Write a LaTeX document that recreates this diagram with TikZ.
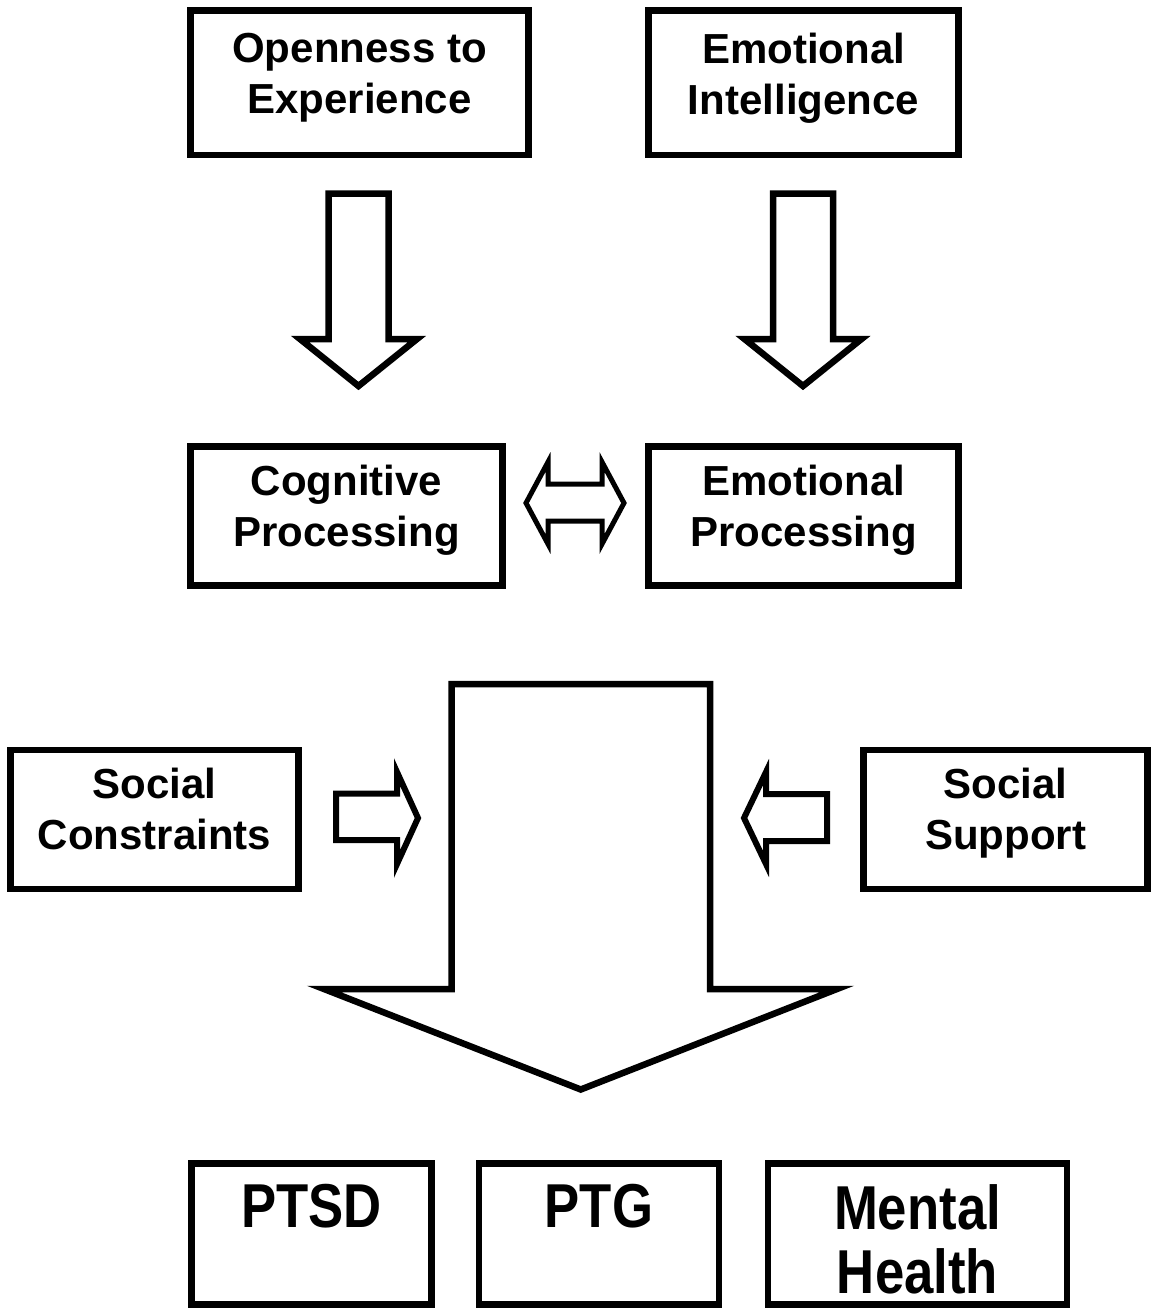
\documentclass[tikz,border=0pt]{standalone}
\usepackage{fontspec}
\setmainfont{Liberation Sans}
\newfontfamily\narrowfont{Liberation Sans}[FakeStretch=0.85]
\begin{document}
\begin{tikzpicture}[x=1pt,y=-1pt,
  frame/.style={draw, line width=6.5pt, inner sep=0pt},
  lbl/.style={font=\fontsize{42}{51}\selectfont\bfseries, align=center, inner sep=0pt, anchor=north},
  biglbl/.style={font=\narrowfont\fontsize{62}{64}\selectfont\bfseries, align=center, inner sep=0pt, anchor=north},
  blockarrow/.style={draw, line width=6.5pt, line join=miter, fill=white},
  thinarrow/.style={draw, line width=5pt, line join=miter, fill=white}]
\useasboundingbox (0,0) rectangle (1152,1309);

% top boxes
\node[frame, minimum width=338pt, minimum height=144.5pt] (open) at (359.5,82.75) {};
\node[lbl] (opentxt) at (359.5,33) {Openness to\\Experience};
\node[frame, minimum width=310pt, minimum height=144.5pt] (ei) at (803.5,82.75) {};
\node[lbl] (eitxt) at (803.5,33) {Emotional\\Intelligence};

% down arrows
\draw[blockarrow] (328.5,193.5) -- (388.5,193.5) -- (388.5,339) -- (417,339) -- (358.5,386) -- (300,339) -- (328.5,339) -- cycle;
\draw[blockarrow] (773,193.5) -- (833,193.5) -- (833,339) -- (861.5,339) -- (803,386) -- (744.5,339) -- (773,339) -- cycle;

% processing boxes
\node[frame, minimum width=312pt, minimum height=139pt] (cog) at (346.5,516) {};
\node[lbl] (cogtxt) at (346.5,465) {Cognitive\\Processing};
\node[frame, minimum width=310pt, minimum height=139pt] (emo) at (803.5,516) {};
\node[lbl] (emotxt) at (803.5,465) {Emotional\\Processing};

% double arrow
\draw[thinarrow] (526,503) -- (548,462) -- (548,484) -- (602,484) -- (602,462) -- (624,503) -- (602,544) -- (602,521) -- (548,521) -- (548,544) -- cycle;

% social boxes
\node[frame, minimum width=288pt, minimum height=139pt] (sc) at (154.5,819.5) {};
\node[lbl] (sctxt) at (154.5,768) {Social\\Constraints};
\node[frame, minimum width=284pt, minimum height=139pt] (ss) at (1005.5,819.5) {};
\node[lbl] (sstxt) at (1005.5,768) {Social\\Support};

% side arrows
\draw[blockarrow, line width=6pt] (336,793.5) -- (397,793.5) -- (397,772) -- (418,818) -- (397,864) -- (397,840) -- (336,840) -- cycle;
\draw[blockarrow, line width=6pt] (827,794) -- (766,794) -- (766,772) -- (744,818) -- (766,864) -- (766,841) -- (827,841) -- cycle;

% big arrow
\draw[blockarrow] (451.5,684) -- (710,684) -- (710,989) -- (837,989) -- (580.75,1089.5) -- (324,989) -- (451.5,989) -- cycle;

% outcome boxes
\node[frame, minimum width=240pt, minimum height=141pt] (ptsd) at (311.5,1234) {};
\node[biglbl] (ptsdtxt) at (311.5,1184) {PTSD};
\node[frame, minimum width=240pt, minimum height=141pt] (ptg) at (599,1234) {};
\node[biglbl] (ptgtxt) at (599,1184) {PTG};
\node[frame, minimum width=299pt, minimum height=141pt] (mh) at (917.5,1234) {};
\node[biglbl] (mhtxt) at (917.5,1184) {Mental\\Health};
\end{tikzpicture}
\end{document}
